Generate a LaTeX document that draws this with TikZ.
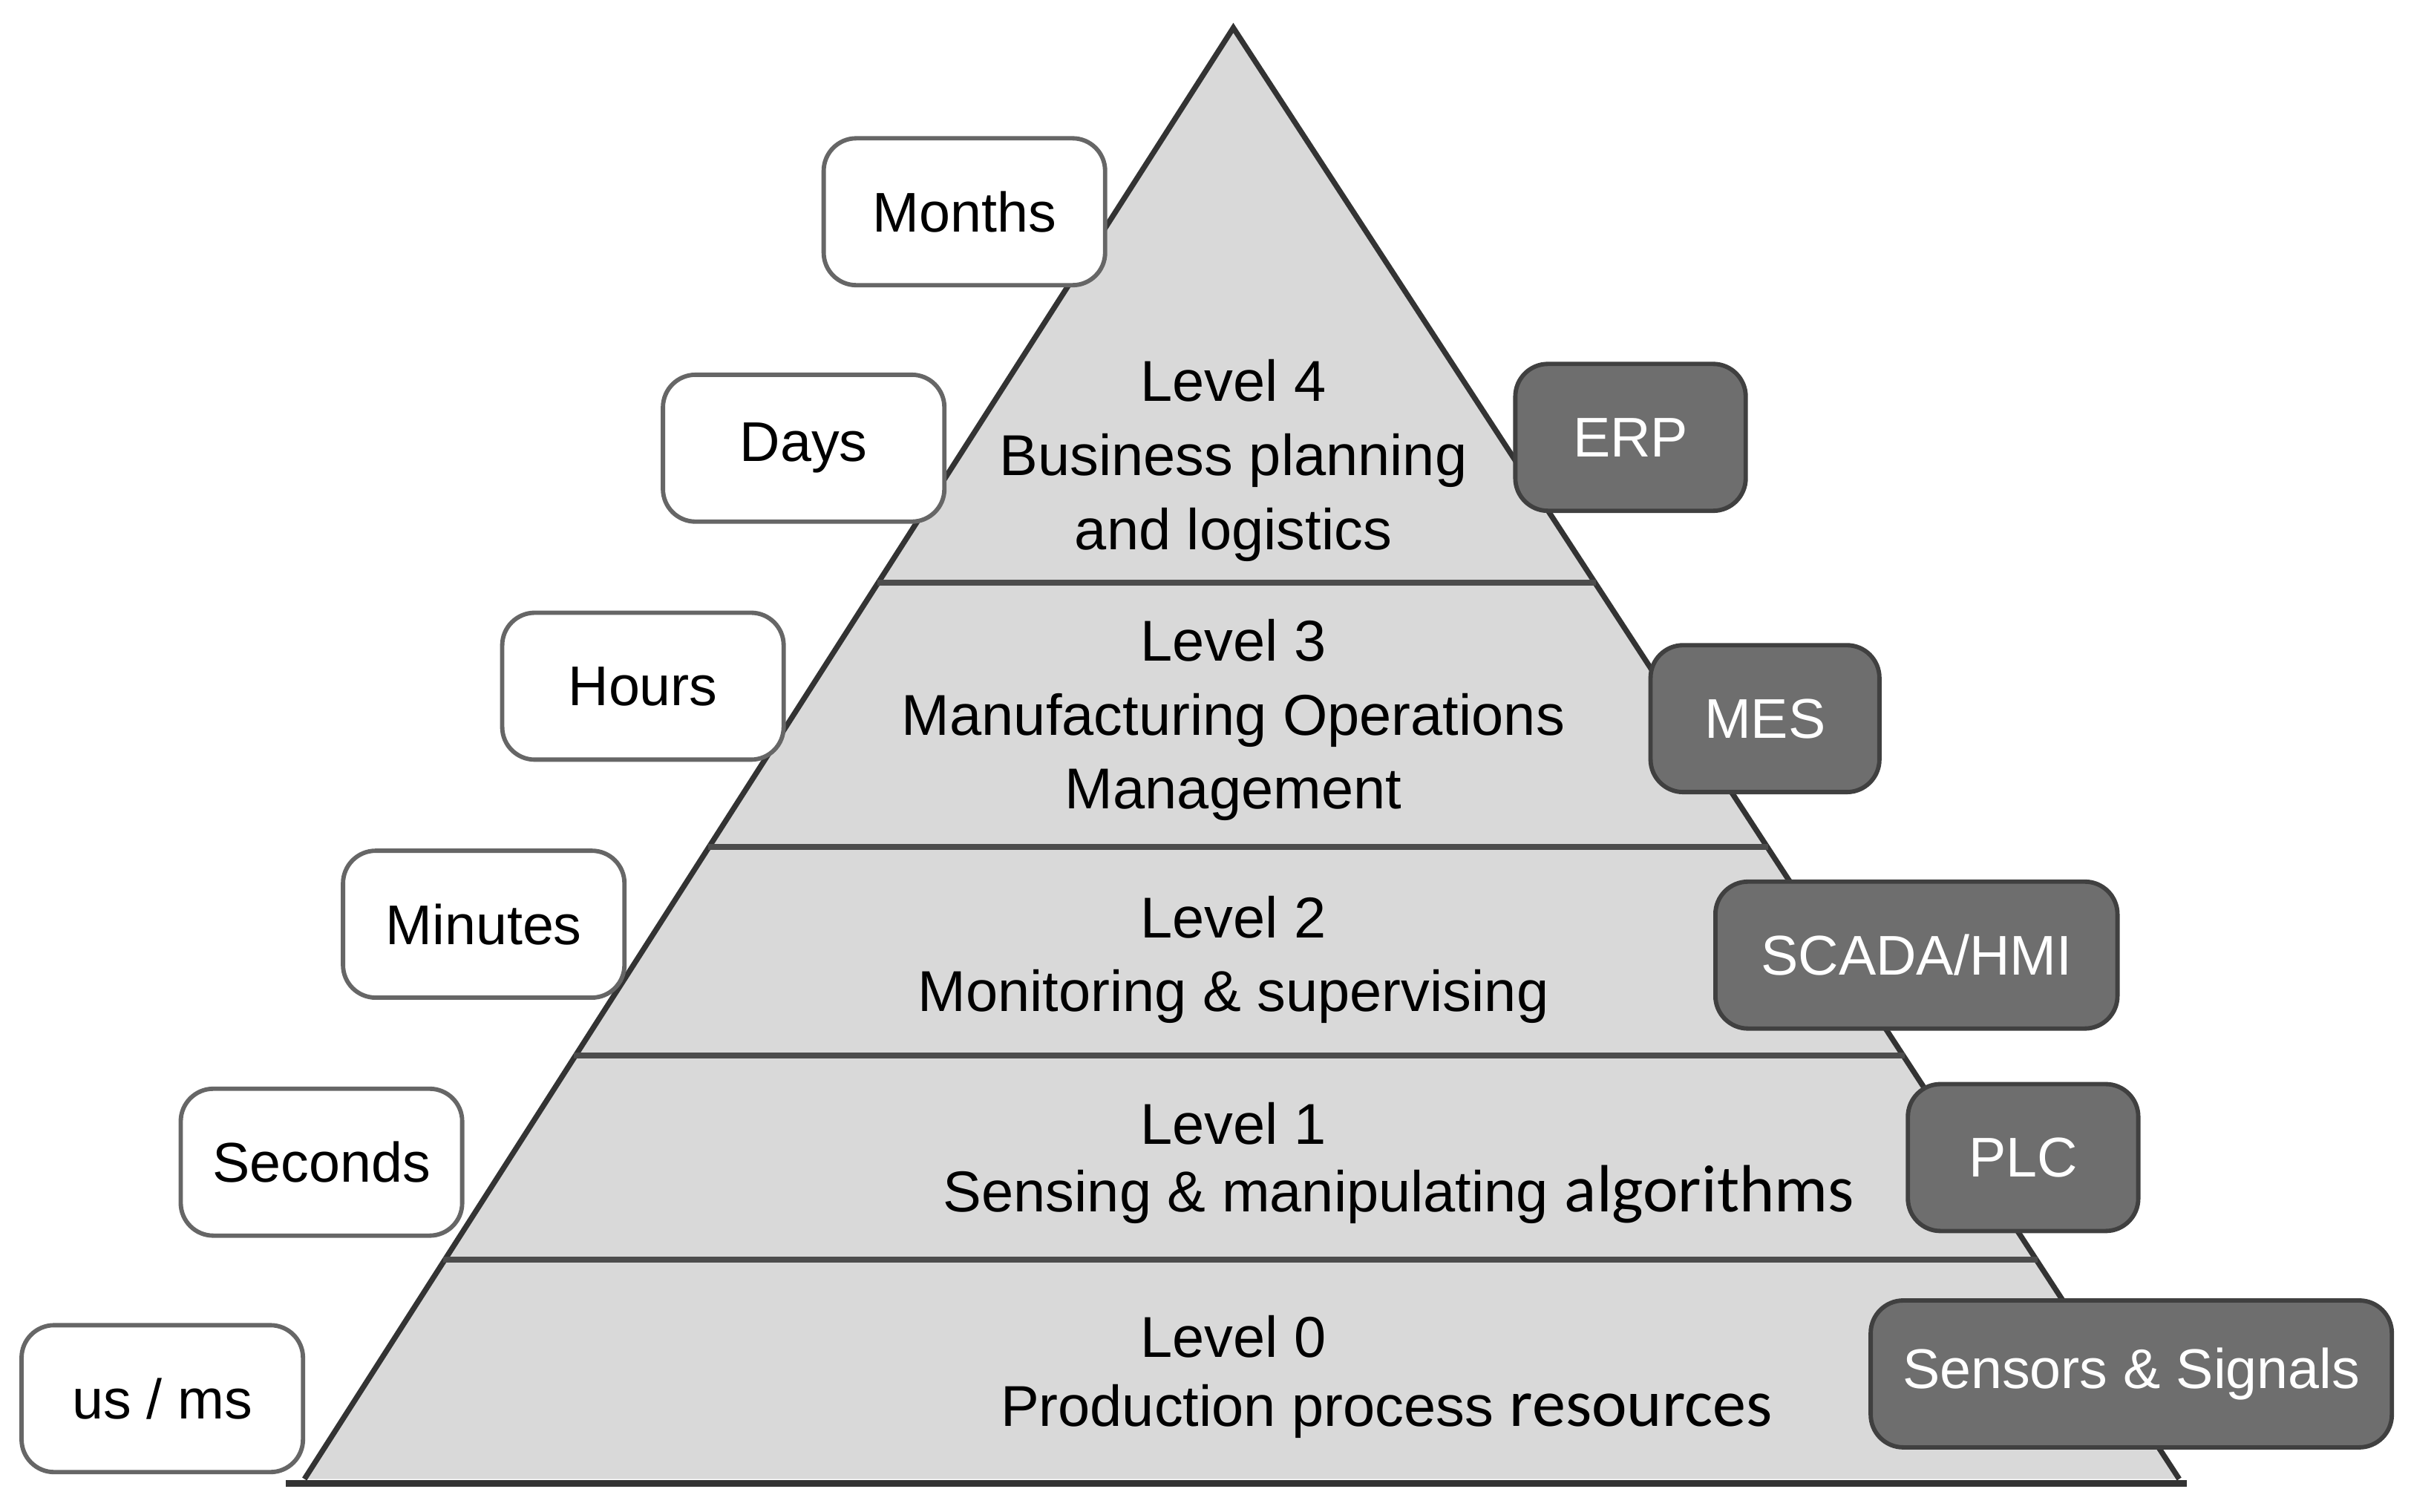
\documentclass[tikz,border=0pt]{standalone}
\usepackage{fontspec}
\setmainfont{Liberation Sans}
\newfontfamily\calfont{Carlito}
\begin{document}
\begin{tikzpicture}[x=0.01cm,y=-0.01cm,
  lbox/.style={draw=black!60,line width=0.8pt,rounded corners=6pt,fill=white,minimum width=1.82cm,minimum height=0.95cm,font=\fontsize{10.3}{13}\selectfont},
  rbox/.style={draw=black!75,line width=0.8pt,rounded corners=6pt,fill=black!57,text=white,minimum height=0.95cm,font=\fontsize{10.3}{13}\selectfont},
  lvl/.style={align=center,font=\fontsize{10.6}{13.6}\selectfont}]
\useasboundingbox (0,0) rectangle (1560,978);
\fill[white] (0,0) rectangle (1560,978);
\coordinate (A) at (798,18);
\coordinate (BL) at (197,957);
\coordinate (BR) at (1410,957);
\fill[black!15] (A) -- (BL) -- (BR) -- cycle;
\draw[black!80,line width=1pt] (BL) -- (A) -- (BR);
\draw[black!80,line width=1.2pt] (185,960) -- (1415,960);
\foreach \y in {377,548,683,815}{
  \draw[black!70,line width=1pt] ({798-0.6414*(\y-18)},\y) -- ({798+0.6531*(\y-18)},\y);}
\node[lbox] (m) at (624,137) {Months};
\node[lbox] (d) at (520,290) {Days};
\node[lbox] (h) at (416,444) {Hours};
\node[lbox] (mi) at (313,598) {Minutes};
\node[lbox] (s) at (208,752) {Seconds};
\node[lbox] (u) at (105,905) {us / ms};
\node[rbox,minimum width=1.49cm] (erp) at (1055,283) {ERP};
\node[rbox,minimum width=1.48cm] (mes) at (1142,465) {MES};
\node[rbox,minimum width=2.6cm] (sc) at (1240,618) {SCADA/HMI};
\node[rbox,minimum width=1.49cm] (plc) at (1309,749) {PLC};
\node[rbox,minimum width=3.37cm] (ss) at (1379,889) {Sensors \& Signals};
\node[lvl] (l4) at (798,298) {Level 4\\Business planning\\and logistics};
\node[lvl] (l3) at (798,466) {Level 3\\Manufacturing Operations\\Management};
\node[lvl] (l2) at (798,621) {Level 2\\Monitoring \& supervising};
\node[lvl] (l1a) at (798,727) {Level 1};
\node[lvl,anchor=center] (l1b) at (905,773) {Sensing \& manipulating {\calfont\fontsize{12.3}{13}\selectfont algorithms}};
\node[lvl] (l0a) at (798,865) {Level 0};
\node[lvl] (l0b) at (897,913) {Production process {\calfont\fontsize{12.3}{13}\selectfont resources}};
\end{tikzpicture}
\end{document}
